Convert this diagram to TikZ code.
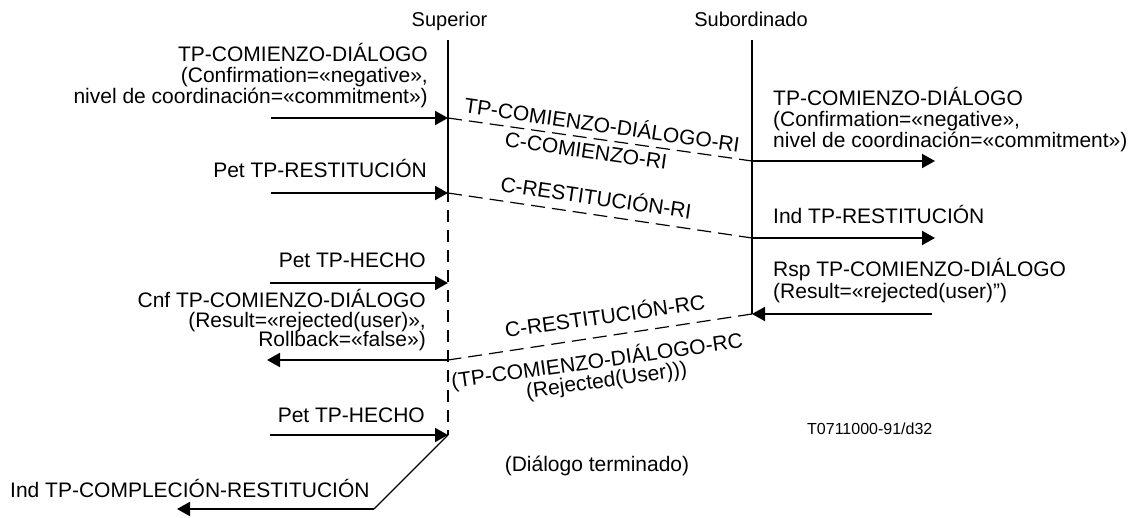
\documentclass[tikz,border=0pt]{standalone}
\usepackage{fontspec}
\setmainfont{Liberation Sans}
\usetikzlibrary{arrows.meta}
\begin{document}
\begin{tikzpicture}[x=1pt,y=-1pt,
  lbl/.style={inner sep=0pt, font=\fontsize{21}{21}\selectfont},
  head/.style={inner sep=0pt, font=\fontsize{20}{20}\selectfont},
  small/.style={inner sep=0pt, font=\fontsize{16}{16}\selectfont},
  lifeline/.style={line width=2pt},
  msg/.style={line width=2pt, -{Triangle[length=13pt,width=14pt]}},
  pdu/.style={line width=1.2pt, dash pattern=on 14pt off 7pt},
  link/.style={line width=1.1pt},
]
\useasboundingbox (0,0) rectangle (1129,518);

% lifeline headers
\node[head, anchor=base] (hsup) at (449.5,27) {Superior};
\node[head, anchor=base] (hsub) at (751,27) {Subordinado};

% lifelines
\coordinate (suptop) at (448,40);
\coordinate (supmid) at (448,202);
\coordinate (supend) at (448,435);
\coordinate (subtop) at (752,40);
\coordinate (subend) at (752,314);
\draw[lifeline] (suptop) -- (supmid);
\draw[lifeline, dash pattern=on 12pt off 8pt, dash phase=12pt] (supmid) -- (supend);
\draw[lifeline] (subtop) -- (subend);

% message end points
\coordinate (a1s) at (271,118);  \coordinate (a1e) at (448,118);
\coordinate (a2s) at (271,193);  \coordinate (a2e) at (448,193);
\coordinate (a3s) at (270,283);  \coordinate (a3e) at (448,283);
\coordinate (a4s) at (448,360);  \coordinate (a4e) at (267,360);
\coordinate (a5s) at (270,435);
\coordinate (bk)  at (374,509);  \coordinate (a6e) at (177,509);
\coordinate (r1s) at (752,161);  \coordinate (r1e) at (935,161);
\coordinate (r2s) at (752,238);  \coordinate (r2e) at (935,238);
\coordinate (r3s) at (932,314);

% primitives at the superior side
\draw[msg] (a1s) -- (a1e);
\draw[msg] (a2s) -- (a2e);
\draw[msg] (a3s) -- (a3e);
\draw[msg] (a4s) -- (a4e);
\draw[msg] (a5s) -- (supend);
\draw[link] (supend) -- (bk);
\draw[msg] (bk) -- (a6e);

% primitives at the subordinate side
\draw[msg] (r1s) -- (r1e);
\draw[msg] (r2s) -- (r2e);
\draw[msg] (r3s) -- (subend);

% protocol data units
\draw[pdu] (a1e) -- (r1s);
\draw[pdu] (a2e) -- (r2s);
\draw[pdu] (subend) -- (a4s);

% texts, superior side
\node[lbl, anchor=base east] (l1a) at (428,62)  {TP-COMIENZO-DIÁLOGO};
\node[lbl, anchor=base east] (l1b) at (428,83)  {(Confirmation=«negative»,};
\node[lbl, anchor=base east] (l1c) at (428,104) {nivel de coordinación=«commitment»)};
\node[lbl, anchor=base east] (l2)  at (427,178) {Pet TP-RESTITUCIÓN};
\node[lbl, anchor=base east] (l3)  at (426,268) {Pet TP-HECHO};
\node[lbl, anchor=base east] (l4a) at (426,308) {Cnf TP-COMIENZO-DIÁLOGO};
\node[lbl, anchor=base east] (l4b) at (426,327) {(Result=«rejected(user)»,};
\node[lbl, anchor=base east] (l4c) at (426,346) {Rollback=«false»)};
\node[lbl, anchor=base east] (l5)  at (425,422) {Pet TP-HECHO};
\node[lbl, anchor=base west] (l6)  at (10,497)  {Ind TP-COMPLECIÓN-RESTITUCIÓN};

% texts, subordinate side
\node[lbl, anchor=base west] (r1a) at (773,105.5) {TP-COMIENZO-DIÁLOGO};
\node[lbl, anchor=base west] (r1b) at (773,126.5) {(Confirmation=«negative»,};
\node[lbl, anchor=base west] (r1c) at (773,148)   {nivel de coordinación=«commitment»)};
\node[lbl, anchor=base west] (r2)  at (773,224)   {Ind TP-RESTITUCIÓN};
\node[lbl, anchor=base west] (r3a) at (773,277)   {Rsp TP-COMIENZO-DIÁLOGO};
\node[lbl, anchor=base west] (r3b) at (773,299)   {(Result=«rejected(user)”)};

% labels of the protocol data units
\node[lbl, anchor=base, rotate=-8.1] (p1a) at (601,132.5) {TP-COMIENZO-DIÁLOGO-RI};
\node[lbl, anchor=base, rotate=-8.1] (p1b) at (585,158)   {C-COMIENZO-RI};
\node[lbl, anchor=base, rotate=-8.3] (p2)  at (595,205)   {C-RESTITUCIÓN-RI};
\node[lbl, anchor=base, rotate=8.1]  (p3a) at (606,323.7) {C-RESTITUCIÓN-RC};
\node[lbl, anchor=base, rotate=8.0]  (p3b) at (598,368)   {(TP-COMIENZO-DIÁLOGO-RC};
\node[lbl, anchor=base, rotate=8.0]  (p3c) at (607.5,387) {(Rejected(User)))};

% remaining texts
\node[lbl, anchor=base] (done) at (597,471) {(Diálogo terminado)};
\node[small, anchor=base west] (ref) at (807,434) {T0711000-91/d32};
\end{tikzpicture}
\end{document}
